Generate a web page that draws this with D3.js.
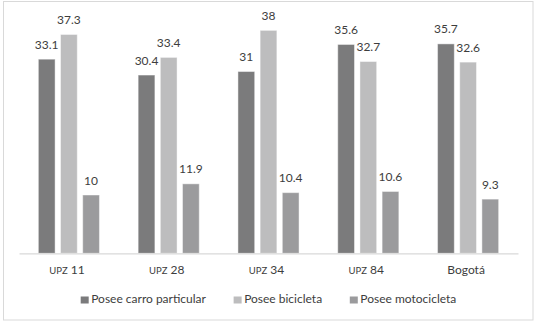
<!DOCTYPE html>
<html><head><meta charset="utf-8">
<script src="https://cdn.jsdelivr.net/npm/d3@7"></script>
<style>
body{margin:0;background:#fff;}
svg{display:block;font-family:Lato,"Open Sans",sans-serif;}
</style></head>
<body><svg id="c" width="536" height="324"></svg>
<script>
const categories = ["UPZ 11","UPZ 28","UPZ 34","UPZ 84","Bogotá"];
const seriesNames = ["Posee carro particular","Posee bicicleta","Posee motocicleta"];
const carro = [33.1,30.4,31,35.6,35.7];
const bicicleta = [37.3,33.4,38,32.7,32.6];
const moto = [10,11.9,10.4,10.6,9.3];
const seriesValues = [carro,bicicleta,moto];
const colors = ["#7b7b7c","#bdbdbe","#9b9b9d"];

const svg = d3.select("#c");
const textColor = "#3d3d3d";
svg.append("rect").attr("x",3.5).attr("y",1.5).attr("width",529.5).attr("height",318.5)
  .attr("fill","#fff").attr("stroke","#d9d9d9").attr("stroke-width",1);

const x0 = d3.scaleBand().domain(categories).range([19,518]).padding(0);
const x1 = d3.scaleBand().domain(seriesNames).range([0,x0.bandwidth()]).paddingInner(0.2).paddingOuter(0.85);
const y = d3.scaleLinear().domain([0,40]).range([253.3,18.1]);

const data = [];
categories.forEach((c,i)=>seriesNames.forEach((s,j)=>data.push({c,s,j,v:seriesValues[j][i]})));

const g = svg.append("g");
g.selectAll("rect.bar").data(data).join("rect").attr("class","bar")
  .attr("x",d=>x0(d.c)+x1(d.s)+0.5).attr("y",d=>y(d.v)+0.5)
  .attr("width",x1.bandwidth()-1).attr("height",d=>y(0)-y(d.v)-0.5)
  .attr("fill",d=>colors[d.j]).attr("stroke","rgba(255,255,255,0.45)").attr("stroke-width",1);

g.selectAll("text.val").data(data).join("text").attr("class","val")
  .attr("x",d=>x0(d.c)+x1(d.s)+x1.bandwidth()/2).attr("y",d=>y(d.v)-10)
  .attr("text-anchor","middle").attr("font-size",12).attr("fill",textColor)
  .text(d=>d.v);

// baseline axis
const ax = svg.append("g").attr("transform",`translate(0,${y(0)})`)
  .call(d3.axisBottom(x0).tickSize(0).tickFormat(""));
ax.select(".domain").attr("stroke","#d9d9d9").attr("stroke-width",1.2);

// category labels with small-caps "UPZ"
const cl = svg.selectAll("text.cat").data(categories).join("text").attr("class","cat")
  .attr("x",d=>x0(d)+x0.bandwidth()/2-2).attr("y",274)
  .attr("text-anchor","middle").attr("font-size",12).attr("fill",textColor);
cl.each(function(d){
  const t = d3.select(this);
  const m = d.match(/^(UPZ)(.*)$/);
  if(m){
    t.append("tspan").attr("font-size",9.5).text(m[1]);
    t.append("tspan").text(m[2]);
  } else t.text(d);
});

// legend
const lg = svg.append("g");
const items = lg.selectAll("g").data(seriesNames).join("g");
items.append("rect").attr("width",8).attr("height",7).attr("y",296.5).attr("fill",(d,i)=>colors[i]);
items.append("text").attr("x",10.5).attr("y",303.3).attr("font-size",12).attr("fill",textColor).text(d=>d);
let off = 0; const widths=[];
items.each(function(){ const w=d3.select(this).select("text").node().getComputedTextLength()+10.5; widths.push(w);});
const gap = 27.7;
const total = d3.sum(widths)+gap*(widths.length-1);
let start = (x0.range()[0]+x0.range()[1])/2 - total/2;
items.attr("transform",(d,i)=>{const t=`translate(${start},0)`; start+=widths[i]+gap; return t;});
</script></body></html>
